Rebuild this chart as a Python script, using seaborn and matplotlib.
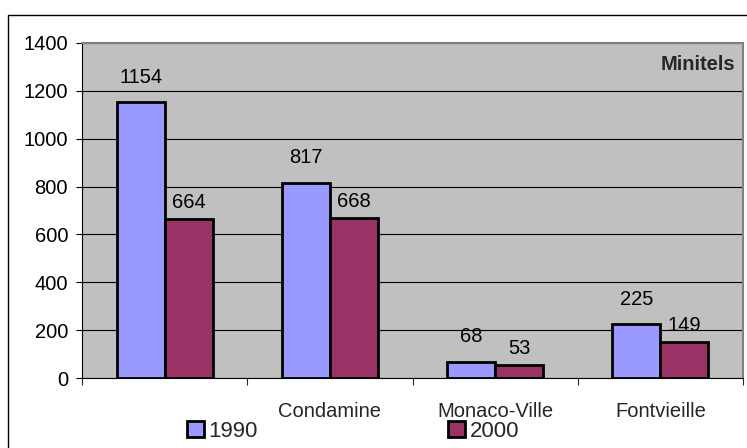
import matplotlib
matplotlib.use("Agg")
import matplotlib.pyplot as plt
from matplotlib.patches import Rectangle
import seaborn as sns
import pandas as pd

# data
quartiers = ["", "Condamine", "Monaco-Ville", "Fontvieille"]
annees = ["1990", "2000"]
v1990 = [1154, 817, 68, 225]
v2000 = [664, 668, 53, 149]
yticks = [0, 200, 400, 600, 800, 1000, 1200, 1400]

df = pd.DataFrame({
    "quartier": quartiers * 2,
    "annee": [annees[0]] * 4 + [annees[1]] * 4,
    "minitels": v1990 + v2000,
})

sns.set_style("ticks")
plt.rcParams["font.family"] = ["Liberation Sans", "DejaVu Sans"]

W, H = 747, 448
fig = plt.figure(figsize=(W / 100, H / 100), dpi=100)
fig.patch.set_facecolor("white")

# cadre extérieur
fig.patches.append(Rectangle((8 / W, -0.1), 1.2, 1 - 15 / H + 0.1,
                             transform=fig.transFigure, fill=False,
                             edgecolor="black", linewidth=1.0))

ax = fig.add_axes([82 / W, 1 - 378 / H, (743 - 82) / W, (378 - 43) / H])
ax.set_facecolor("#C0C0C0")

sns.barplot(data=df, x="quartier", y="minitels", hue="annee", order=quartiers,
            hue_order=annees, palette=["#9999FF", "#993366"], width=0.58,
            edgecolor="black", linewidth=2.0, saturation=1, ax=ax, legend=True)

for cont, pad in zip(ax.containers, [11, 5]):
    ax.bar_label(cont, padding=pad, fontsize=14.5, color="black")

ax.set_ylim(0, 1400)
ax.set_xlim(-0.5, 3.5)
ax.set_yticks(yticks)
ax.yaxis.grid(True, color="black", linewidth=0.8)
ax.set_axisbelow(True)
ax.set_xlabel("")
ax.set_ylabel("")

ax.tick_params(axis="y", labelsize=14.5, length=4, width=0.8, pad=6, colors="black")
ax.tick_params(axis="x", which="major", labelsize=14.5, length=0, pad=17)
ax.set_xticks([-0.5, 0.5, 1.5, 2.5, 3.5], minor=True)
ax.tick_params(axis="x", which="minor", length=5, width=0.8, direction="out")

for s in ["top", "right"]:
    ax.spines[s].set_color("#808080")
    ax.spines[s].set_linewidth(1.5)
for s in ["left", "bottom"]:
    ax.spines[s].set_color("black")
    ax.spines[s].set_linewidth(0.8)

ax.text(0.988, 0.935, "Minitels", transform=ax.transAxes, ha="right", va="center",
        fontsize=14.5, fontweight="bold")

handles, labels = ax.get_legend_handles_labels()
ax.get_legend().remove()
fig.legend(handles, labels, loc="center", bbox_to_anchor=(353 / W, 1 - 431 / H),
           ncol=2, frameon=False, fontsize=16, handlelength=0.75, handleheight=0.75,
           handletextpad=0.2, columnspacing=8.6, borderpad=0)

fig.savefig("out.png", dpi=100)
